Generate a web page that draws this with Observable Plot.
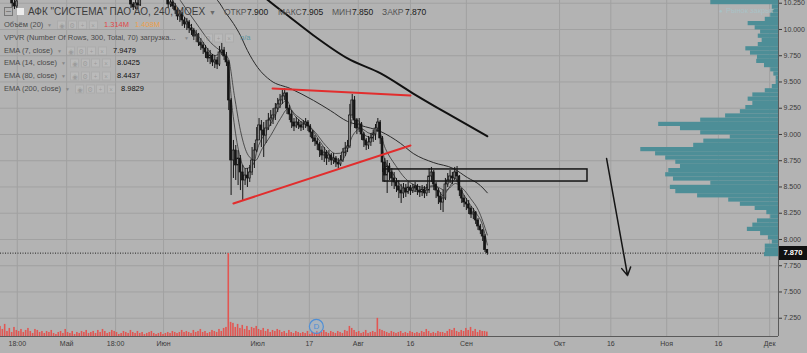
<!DOCTYPE html>
<html><head><meta charset="utf-8">
<script src="https://cdn.jsdelivr.net/npm/d3@7"></script>
<script src="https://cdn.jsdelivr.net/npm/@observablehq/plot@0.6"></script>
<style>
html,body{margin:0;padding:0;background:#b3b3b3;}
#wrap{position:relative;width:807px;height:353px;overflow:hidden;font-family:"Liberation Sans",Arial,sans-serif;}
#wrap svg{position:absolute;left:0;top:0;}
.lg{position:absolute;white-space:nowrap;line-height:1;transform:translateY(-50%);}
.ic{position:absolute;width:9px;height:9px;background:rgba(255,255,255,0.10);border:1px solid rgba(0,0,0,0.07);transform:translateY(-50%);box-sizing:border-box;color:rgba(0,0,0,0.18);font-size:7px;line-height:8px;text-align:center;}
</style></head><body><div id="wrap"></div><script>
// ---------- axes ----------
const xTicks = [3.6, 14.2, 24.7, 35, 55.2, 66.3, 76.8, 88, 100, 120, 131, 143, 154.1, 165.1];
const xLabels = ["18:00","Май","18:00","Июн","Июл","17","Авг","16","Сен","Окт","16","Ноя","16","Дек"];
const yTicks = [7.25,7.5,7.75,8,8.25,8.5,8.75,9,9.25,9.5,9.75,10,10.25];
const xDomain = [0, 167];
const yDomain = [7.076, 10.276];

// ---------- candles (4h bars, price in RUB) ----------
const earlyT = [2.5, 3, 3.5, 28, 28.5, 29, 29.5, 30];
const earlyOHLC = [
 [10.295,10.314,10.210,10.248],[10.248,10.276,10.190,10.219],[10.219,10.305,10.200,10.267],
 [10.276,10.305,10.200,10.238],[10.238,10.257,10.181,10.210],[10.210,10.286,10.190,10.248],
 [10.248,10.276,10.190,10.229],[10.229,10.324,10.219,10.295]];
const mainStart = 36, barStep = 0.5;
const mainOHLC = [
 [10.286,10.295,10.200,10.238],[10.238,10.286,10.210,10.257],[10.257,10.276,10.190,10.219],[10.219,10.248,10.143,10.181],
 [10.181,10.200,10.086,10.124],[10.124,10.181,10.067,10.143],[10.143,10.162,10.029,10.086],[10.086,10.114,10.010,10.048],
 [10.048,10.105,9.990,10.067],[10.067,10.086,9.962,10.010],[10.010,10.048,9.943,9.990],[9.990,10.010,9.895,9.933],
 [9.933,9.990,9.876,9.952],[9.952,9.962,9.838,9.876],[9.876,9.914,9.800,9.848],[9.848,9.876,9.762,9.819],
 [9.819,9.848,9.724,9.781],[9.781,9.819,9.686,9.724],[9.724,9.800,9.666,9.752],[9.752,9.762,9.647,9.686],
 [9.686,9.752,9.628,9.705],[9.705,9.733,9.619,9.666],[9.666,9.838,9.647,9.781],[9.781,9.867,9.752,9.800],
 [9.800,9.829,9.705,9.743],[9.743,9.781,9.647,9.686],[9.686,9.705,9.228,9.324],[9.324,9.343,8.419,8.752],
 [8.752,8.943,8.581,8.847],[8.847,8.895,8.562,8.705],[8.705,8.847,8.514,8.771],[8.771,8.800,8.466,8.638],
 [8.638,8.705,8.362,8.562],[8.562,8.676,8.514,8.609],[8.609,8.676,8.495,8.581],[8.581,8.705,8.543,8.638],
 [8.638,8.876,8.609,8.752],[8.752,8.914,8.676,8.847],[8.847,9.066,8.828,8.943],[8.943,9.152,8.943,9.086],
 [9.086,9.133,8.876,9.038],[9.038,9.114,8.781,8.990],[8.990,9.133,8.914,9.057],[9.057,9.200,9.038,9.133],
 [9.133,9.228,9.076,9.152],[9.152,9.247,9.095,9.181],[9.181,9.295,9.133,9.247],[9.247,9.343,9.209,9.286],
 [9.286,9.381,9.247,9.324],[9.324,9.428,9.286,9.362],[9.362,9.438,9.324,9.390],[9.390,9.400,9.190,9.247],
 [9.247,9.276,9.133,9.190],[9.190,9.228,9.057,9.114],[9.114,9.152,9.028,9.076],[9.076,9.162,9.057,9.114],
 [9.114,9.143,9.047,9.086],[9.086,9.124,9.028,9.066],[9.066,9.133,9.038,9.095],[9.095,9.152,9.057,9.114],
 [9.114,9.133,9.028,9.076],[9.076,9.095,8.971,9.019],[9.019,9.038,8.924,8.962],[8.962,8.990,8.886,8.933],
 [8.933,8.962,8.847,8.905],[8.905,8.924,8.781,8.847],[8.847,8.886,8.752,8.800],[8.800,8.876,8.733,8.828],
 [8.828,8.847,8.705,8.771],[8.771,8.847,8.733,8.800],[8.800,8.819,8.705,8.752],[8.752,8.819,8.714,8.771],
 [8.771,8.790,8.686,8.733],[8.733,8.771,8.676,8.714],[8.714,8.800,8.695,8.752],[8.752,8.866,8.733,8.828],
 [8.828,8.924,8.790,8.866],[8.866,8.943,8.828,8.886],[8.886,9.286,8.866,9.181],[9.181,9.381,9.152,9.324],
 [9.324,9.362,9.057,9.133],[9.133,9.152,9.000,9.057],[9.057,9.152,9.019,9.095],[9.095,9.114,8.943,9.000],
 [9.000,9.019,8.876,8.943],[8.943,8.962,8.847,8.895],[8.895,8.981,8.857,8.924],[8.924,9.009,8.886,8.962],
 [8.962,9.038,8.924,9.000],[9.000,9.095,8.943,9.057],[9.057,9.152,9.019,9.114],[9.114,9.133,8.905,8.962],
 [8.962,8.981,8.638,8.733],[8.733,8.771,8.543,8.609],[8.609,8.752,8.438,8.695],[8.695,8.724,8.562,8.638],
 [8.638,8.676,8.505,8.581],[8.581,8.638,8.476,8.543],[8.543,8.581,8.447,8.505],[8.505,8.562,8.390,8.466],
 [8.466,8.524,8.343,8.438],[8.438,8.533,8.390,8.486],[8.486,8.524,8.400,8.447],[8.447,8.543,8.428,8.495],
 [8.495,8.514,8.419,8.466],[8.466,8.524,8.438,8.486],[8.486,8.543,8.447,8.505],[8.505,8.524,8.419,8.466],
 [8.466,8.505,8.400,8.447],[8.447,8.514,8.409,8.476],[8.476,8.505,8.390,8.438],[8.438,8.524,8.409,8.466],
 [8.466,8.676,8.438,8.600],[8.600,8.686,8.543,8.638],[8.638,8.657,8.466,8.524],[8.524,8.543,8.390,8.466],
 [8.466,8.486,8.333,8.409],[8.409,8.447,8.276,8.352],[8.352,8.466,8.257,8.390],[8.390,8.581,8.371,8.524],
 [8.524,8.628,8.495,8.562],[8.562,8.657,8.533,8.600],[8.600,8.638,8.524,8.581],[8.581,8.686,8.562,8.638],
 [8.638,8.695,8.543,8.600],[8.600,8.609,8.409,8.466],[8.466,8.486,8.343,8.390],[8.390,8.419,8.305,8.352],
 [8.352,8.390,8.276,8.333],[8.333,8.371,8.238,8.295],[8.295,8.314,8.200,8.238],[8.238,8.295,8.190,8.257],
 [8.257,8.266,8.143,8.181],[8.181,8.200,8.086,8.124],[8.124,8.143,8.047,8.086],[8.086,8.095,7.981,8.028],
 [8.028,8.047,7.876,7.900],[7.900,7.905,7.850,7.870]];

// ---------- volume (millions), one value per bar from t = 0 ----------
const volStart = 0;
const volumes = [
 3.0,2.1,3.6,1.5,2.4,1.2,2.7,1.8,1.5,2.1, 1.2,1.8,2.4,1.5,0.9,2.1,1.8,1.2,1.5,0.9,
 1.5,1.2,1.8,0.9,0.6,1.2,1.5,0.9,2.1,1.2, 0.9,1.5,0.6,1.2,0.9,1.5,1.2,1.8,0.9,1.2,
 1.5,0.9,1.8,1.2,2.1,1.5,0.9,1.2,1.8,1.5, 1.2,0.6,0.9,1.5,1.2,0.9,1.8,1.2,0.9,1.5,
 0.9,1.2,0.6,0.9,1.2,1.5,0.9,0.6,0.9,1.2, 0.6,0.9,1.2,0.9,1.5,1.2,0.9,1.2,1.8,1.2,
 1.5,1.2,0.9,1.8,1.2,1.5,2.1,1.2,1.5,0.9, 1.2,1.8,1.5,1.2,2.1,1.5,2.4,2.7,24.7,4.2,
 3.9,2.7,3.6,2.4,3.3,2.1,3.0,1.8,2.7,2.4, 3.0,2.1,1.8,2.4,1.5,2.1,1.2,1.8,1.5,2.1,
 1.8,1.2,1.5,0.9,1.8,1.2,0.9,1.5,1.2,0.9, 1.2,0.9,1.5,0.6,1.2,0.9,1.5,0.9,1.2,1.8,
 1.2,0.9,1.5,1.2,0.9,1.5,1.2,0.9,1.8,1.5, 3.0,2.4,1.8,1.2,1.5,0.9,1.2,1.8,0.9,1.2,
 1.5,1.2,5.4,2.1,1.8,1.5,1.2,0.9,1.5,1.2, 0.9,1.2,1.5,0.9,1.2,0.9,1.5,1.2,0.9,1.2,
 0.9,1.5,1.2,2.1,1.5,0.9,1.2,0.9,1.5,1.2, 1.2,0.9,1.5,2.1,1.8,2.4,1.5,1.2,1.8,1.5,
 2.4,1.8,2.7,1.5,2.1,1.2,1.8,1.5,1.5,1.314];
const dividendMark = [{t: 67.8, v: 3.0, label: "D"}];

// ---------- EMA lines [t, value] ----------
const ema7 = [[36.9,10.276],[39.7,10.105],[42.9,9.914],[46.1,9.752],[47.6,9.781],[48.7,9.705],[49.8,9.229],[51.1,8.847],[52.6,8.676],[54.1,8.705],[55.4,8.895],[56.9,9.019],[58.4,9.133],[60.1,9.276],[61.4,9.324],[62.7,9.209],[64.4,9.124],[66.5,9.067],[68.7,8.924],[70.8,8.800],[73.0,8.752],[74.3,8.829],[75.6,9.152],[76.8,9.133],[78.3,8.990],[79.8,8.971],[81.1,9.057],[82.4,8.771],[84.1,8.638],[85.9,8.514],[88.0,8.467],[90.1,8.457],[91.9,8.505],[93.4,8.514],[94.9,8.419],[96.2,8.486],[97.7,8.581],[98.7,8.486],[100.5,8.352],[102.0,8.257],[103.5,8.133],[104.5,7.948]];
const ema14 = [[38.6,10.276],[41.9,10.067],[45.1,9.876],[47.6,9.781],[48.9,9.724],[50.2,9.371],[51.5,9.038],[53.2,8.800],[54.7,8.752],[56.2,8.867],[58.0,8.990],[60.1,9.152],[61.8,9.248],[63.5,9.181],[65.5,9.114],[67.6,9.019],[69.8,8.895],[71.9,8.819],[74.0,8.829],[75.6,8.990],[77.3,9.057],[79.4,9.009],[81.1,9.038],[82.6,8.867],[84.8,8.705],[86.9,8.581],[89.1,8.514],[91.2,8.495],[93.4,8.505],[95.5,8.467],[97.7,8.533],[99.2,8.486],[100.9,8.390],[102.6,8.276],[104.5,8.043]];
const ema80 = [[45.1,10.324],[46.6,10.276],[48.3,10.162],[50.0,10.057],[51.5,9.943],[53.0,9.800],[55.2,9.638],[58.0,9.514],[62.2,9.438],[67.2,9.324],[70.8,9.228],[74.5,9.124],[77.3,9.086],[81.6,9.028],[85.9,8.914],[88.6,8.819],[92.9,8.733],[97.2,8.676],[100.2,8.590],[103.0,8.514],[104.5,8.444]];
const ema200 = [[56.2,10.324],[57.5,10.276],[62.2,10.114],[67.2,9.943],[74.5,9.724],[81.6,9.581],[88.6,9.390],[95.9,9.200],[104.5,8.983]];

// ---------- drawings ----------
const trendUpper = [[58.4,9.438],[88.0,9.371]];
const trendLower = [[50.0,8.343],[88.0,8.895]];
const zone = [{t1: 82.2, t2: 126.0, p1: 8.552, p2: 8.667}];
const forecastArrow = [{t1: 130.1, p1: 8.771, t2: 134.6, p2: 7.657}];
const lastPrice = 7.870;

// ---------- volume profile (VPVR) ----------
const profilePrice = [10.256,10.216,10.176,10.136,10.096,10.056,10.016,9.976,9.936,9.896,9.856,9.816,9.776,9.736,9.696,9.656,9.616,9.576,9.536,9.496,9.456,9.416,9.376,9.336,9.296,9.256,9.216,9.176,9.136,9.096,9.056,9.016,8.976,8.936,8.896,8.856,8.816,8.776,8.736,8.696,8.656,8.616,8.576,8.536,8.496,8.456,8.416,8.376,8.336,8.296,8.256,8.216,8.176,8.136,8.096,8.056,8.016,7.976,7.936,7.896,7.856];
const profileVol = [8.7,0.8,0.8,1.0,1.7,3.9,3.0,2.3,2.6,2.1, 2.6,4.2,3.6,2.7,2.8,1.8,1.0,0.6,0.3,0.3, 0.8,1.7,3.3,3.9,3.3,4.2,4.9,6.8,10.0,15.4, 12.6,10.0,6.2,9.6,10.9,17.7,15.8,14.5,13.2,12.6, 14.1,14.5,13.5,8.7,13.9,13.2,10.4,6.4,4.9,3.0, 1.5,1.0,2.7,3.3,4.0,2.3,1.3,0.8,1.7,1.7,1.8];
const profileHalf = 0.02;

// ---------- build tables ----------
const toCandle = (t, r) => ({t, o: r[0], h: r[1], l: r[2], c: r[3]});
const candles = earlyT.map((t, i) => toCandle(t, earlyOHLC[i]))
  .concat(mainOHLC.map((r, i) => toCandle(mainStart + i * barStep, r)));
const up = candles.filter(d => d.c >= d.o), down = candles.filter(d => d.c < d.o);
const vol = volumes.map((v, i) => ({t: volStart + i * barStep, v}));
const profile = profilePrice.map((p, i) => ({p, v: profileVol[i]}));
const pair = a => a.map(([t, v]) => ({t, v}));
const labelOf = new Map(xTicks.map((t, i) => [t, xLabels[i]]));

const W = 807, H = 353, M = {marginLeft: 0, marginRight: 29, marginTop: 0, marginBottom: 17};
const wrap = document.getElementById("wrap");
const font = "Liberation Sans, Arial, sans-serif";

const main = Plot.plot({
  width: W, height: H, ...M,
  style: {background: "#b3b3b3", fontFamily: font, fontSize: "7px", color: "#3a3a3a"},
  x: {type: "linear", domain: xDomain, ticks: xTicks, tickFormat: d => labelOf.get(d), tickSize: 0, tickPadding: 5, label: null},
  y: {domain: yDomain, axis: "right", ticks: yTicks, tickFormat: ".3f", tickSize: 3, tickPadding: 2, label: null},
  marks: [
    Plot.ruleX(xTicks, {stroke: "#a1a1a1", strokeWidth: 1}),
    Plot.ruleY(yTicks, {stroke: "#a1a1a1", strokeWidth: 1}),
    Plot.line(pair(ema200), {x: "t", y: "v", stroke: "#111", strokeWidth: 2, curve: "monotone-x"}),
    Plot.line(pair(ema80), {x: "t", y: "v", stroke: "#2a2a2a", strokeWidth: 1, curve: "monotone-x"}),
    Plot.line(pair(ema14), {x: "t", y: "v", stroke: "#333", strokeWidth: 0.8, curve: "monotone-x"}),
    Plot.line(pair(ema7), {x: "t", y: "v", stroke: "#333", strokeWidth: 0.8, curve: "monotone-x"}),
    Plot.ruleX(candles, {x: "t", y1: "l", y2: "h", stroke: "#151515", strokeWidth: 1}),
    Plot.rect(up, {x1: d => d.t - 0.2, x2: d => d.t + 0.2, y1: "o", y2: "c", fill: "#8a8a8a", stroke: "#151515", strokeWidth: 0.7}),
    Plot.rect(down, {x1: d => d.t - 0.2, x2: d => d.t + 0.2, y1: "o", y2: "c", fill: "#151515", stroke: "#151515", strokeWidth: 0.7}),
    Plot.line(pair(trendUpper), {x: "t", y: "v", stroke: "#e22d2d", strokeWidth: 2}),
    Plot.line(pair(trendLower), {x: "t", y: "v", stroke: "#e22d2d", strokeWidth: 2}),
    Plot.rect(zone, {x1: "t1", x2: "t2", y1: "p1", y2: "p2", fill: "none", stroke: "#151515", strokeWidth: 1.5}),
    Plot.arrow(forecastArrow, {x1: "t1", y1: "p1", x2: "t2", y2: "p2", stroke: "#151515", strokeWidth: 1.5, headLength: 9}),
    Plot.ruleY([lastPrice], {stroke: "#222", strokeWidth: 1, strokeDasharray: "1,1.5"}),
    Plot.ruleX([xDomain[1]], {stroke: "#5a5a5a"}),
    Plot.ruleY([yDomain[0]], {stroke: "#5a5a5a"})
  ]
});
wrap.appendChild(main);

const profilePlot = Plot.plot({
  width: W, height: H, ...M,
  style: {background: "transparent"},
  x: {domain: [0, 100], reverse: true, axis: null},
  y: {domain: yDomain, axis: null},
  marks: [
    Plot.rectX(profile, {x1: 0, x2: "v", y1: d => d.p - profileHalf, y2: d => d.p + profileHalf, fill: "#4d8e97"})
  ]
});
wrap.appendChild(profilePlot);

const volPlot = Plot.plot({
  width: W, height: H, ...M,
  style: {background: "transparent", fontFamily: font},
  x: {type: "linear", domain: xDomain, axis: null},
  y: {domain: [0, 100], axis: null},
  marks: [
    Plot.rectY(vol, {x1: d => d.t - 0.17, x2: d => d.t + 0.17, y1: 0, y2: "v", fill: "#e25652"}),
    Plot.dot(dividendMark, {x: "t", y: "v", r: 7, stroke: "#4f8fd6", strokeWidth: 1.2, fill: "#9fb8d0", fillOpacity: 0.35}),
    Plot.text(dividendMark, {x: "t", y: "v", text: "label", fill: "#4f8fd6", fontSize: 8})
  ]
});
wrap.appendChild(volPlot);

// ---------- last price tag on the price axis ----------
const yScale = main.scale("y");
const ty = yScale.apply(lastPrice);
const tag = document.createElement("div");
tag.style.cssText = `position:absolute;left:779px;top:${ty - 7}px;width:28px;height:14px;background:#111;color:#fff;font:bold 7.5px ${font};line-height:14px;text-align:center;`;
tag.textContent = lastPrice.toFixed(3);
wrap.appendChild(tag);

// ---------- legend ----------
const legendTexts = [
  {x: 28, y: 12, s: 10, c: "#3c3c3c", t: 'АФК "СИСТЕМА" ПАО АО, 240, MOEX'},
  {x: 209, y: 12, s: 7, c: "#6a6a6a", t: "▼"},
  {x: 224, y: 12, s: 8.5, c: "#555", t: "ОТКР"}, {x: 247, y: 12, s: 8.5, c: "#1a1a1a", t: "7.900"},
  {x: 278, y: 12, s: 8.5, c: "#555", t: "МАКС"}, {x: 302, y: 12, s: 8.5, c: "#1a1a1a", t: "7.905"},
  {x: 332, y: 12, s: 8.5, c: "#555", t: "МИН"}, {x: 352, y: 12, s: 8.5, c: "#1a1a1a", t: "7.850"},
  {x: 382, y: 12, s: 8.5, c: "#555", t: "ЗАКР"}, {x: 405, y: 12, s: 8.5, c: "#1a1a1a", t: "7.870"},
  {x: 4, y: 25, s: 7.5, c: "#4a4a4a", t: "Объём (20)"}, {x: 47, y: 25, s: 5, c: "#888", t: "▼"},
  {x: 104, y: 25, s: 7.5, c: "#e04848", t: "1.314M"}, {x: 135, y: 25, s: 7.5, c: "#eda04a", t: "1.408M"},
  {x: 4, y: 38, s: 7.5, c: "#4a4a4a", t: "VPVR (Number Of Rows, 300, Total, 70) загрузка..."}, {x: 184, y: 38, s: 5, c: "#888", t: "▼"},
  {x: 240, y: 38, s: 7.5, c: "#5c98a3", t: "n/a"},
  {x: 4, y: 51, s: 7.5, c: "#4a4a4a", t: "EMA (7, close)"}, {x: 57, y: 51, s: 5, c: "#888", t: "▼"},
  {x: 113, y: 51, s: 7.5, c: "#111", t: "7.9479"},
  {x: 4, y: 63, s: 7.5, c: "#4a4a4a", t: "EMA (14, close)"}, {x: 61, y: 63, s: 5, c: "#888", t: "▼"},
  {x: 117, y: 63, s: 7.5, c: "#111", t: "8.0425"},
  {x: 4, y: 76, s: 7.5, c: "#4a4a4a", t: "EMA (80, close)"}, {x: 61, y: 76, s: 5, c: "#888", t: "▼"},
  {x: 117, y: 76, s: 7.5, c: "#111", t: "8.4437"},
  {x: 4, y: 89, s: 7.5, c: "#4a4a4a", t: "EMA (200, close)"}, {x: 65, y: 89, s: 5, c: "#888", t: "▼"},
  {x: 121, y: 89, s: 7.5, c: "#111", t: "8.9829"},
  {x: 719, y: 11, s: 6, c: "#a9c2c6", t: "●"}, {x: 726, y: 11, s: 7.5, c: "#a9c2c6", t: "Рынок закрыт"}
];
for (const d of legendTexts) {
  const el = document.createElement("div");
  el.className = "lg";
  el.style.left = d.x + "px"; el.style.top = d.y + "px";
  el.style.fontSize = d.s + "px"; el.style.color = d.c;
  el.textContent = d.t;
  wrap.appendChild(el);
}
const iconRows = [{x: 57, y: 25}, {x: 193, y: 38}, {x: 66, y: 51}, {x: 70, y: 63}, {x: 70, y: 76}, {x: 75, y: 89}];
const iconGlyphs = ["◉", "⚙", "+", "×"];
for (const r of iconRows) {
  iconGlyphs.forEach((g, k) => {
    const el = document.createElement("div");
    el.className = "ic";
    el.style.left = (r.x + k * 10.5) + "px"; el.style.top = r.y + "px";
    el.textContent = g;
    wrap.appendChild(el);
  });
}
// collapse button and symbol square
const btn = document.createElement("div");
btn.style.cssText = "position:absolute;left:4px;top:7px;width:9px;height:9px;border:1px solid #777;box-sizing:border-box;color:#666;font-size:9px;line-height:6px;text-align:center;";
btn.textContent = "–";
wrap.appendChild(btn);
const sq = document.createElement("div");
sq.style.cssText = "position:absolute;left:17px;top:8px;width:7px;height:7px;background:#ececec;";
wrap.appendChild(sq);
</script></body></html>
